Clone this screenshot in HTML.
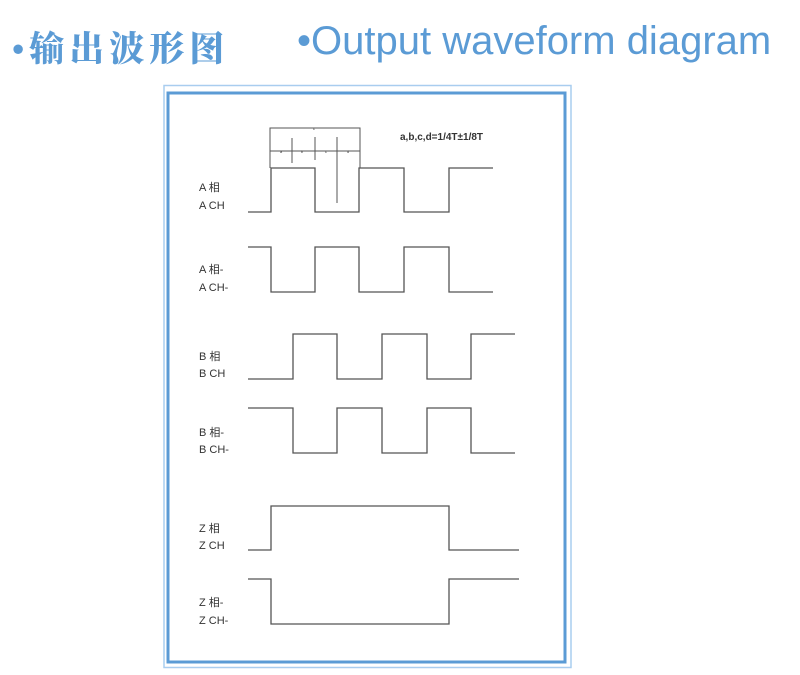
<!DOCTYPE html>
<html><head><meta charset="utf-8"><style>
body{margin:0;width:800px;height:675px;background:#fff;overflow:hidden;position:relative;font-family:"Liberation Sans",sans-serif}
.t1{position:absolute;left:12px;top:22px;font-family:"Liberation Serif","Noto Serif CJK SC",serif;font-weight:900;font-size:35px;color:#5b9bd5;letter-spacing:5px}
.t2{position:absolute;left:297px;top:19px;font-size:40px;color:#5b9bd5}
</style></head><body>
<div class="t1">•输出波形图</div>
<div class="t2">•Output waveform diagram</div>
<svg width="800" height="675" style="position:absolute;left:0;top:0">
<rect x="164" y="85.5" width="407" height="582" fill="none" stroke="#a9cdef" stroke-width="1.5"/>
<rect x="168" y="93" width="397" height="569" fill="none" stroke="#5b9bd5" stroke-width="3"/>
<g fill="none" stroke="#555" stroke-width="1.3">
<path d="M248 212H271V168H315V212H359V168H404V212H449V168H493"/>
<path d="M248 247H271V292H315V247H359V292H404V247H449V292H493"/>
<path d="M248 379H293V334H337V379H382V334H427V379H471V334H515"/>
<path d="M248 408H293V453H337V408H382V453H427V408H471V453H515"/>
<path d="M248 550H271V506H449V550H519"/>
<path d="M248 579H271V624H449V579H519"/>
<path d="M270 168V128H360V168M270 151H360M292 138V163M315 137V160M337 137V203" stroke-width="1"/>
</g>
<g font-size="4" fill="#333" text-anchor="middle"><text x="281" y="153">a</text><text x="302" y="153">b</text><text x="326" y="153">c</text><text x="348" y="153">d</text><text x="314" y="130">c</text></g>
<text x="400" y="140" font-size="10" font-weight="bold" fill="#333">a,b,c,d=1/4T±1/8T</text>
<g font-size="11" fill="#333" font-family="Liberation Sans,Noto Sans CJK SC,sans-serif">
<text x="199" y="191">A 相</text><text x="199" y="209">A CH</text>
<text x="199" y="273">A 相-</text><text x="199" y="291">A CH-</text>
<text x="199" y="360">B 相</text><text x="199" y="377">B CH</text>
<text x="199" y="436">B 相-</text><text x="199" y="453">B CH-</text>
<text x="199" y="532">Z 相</text><text x="199" y="549">Z CH</text>
<text x="199" y="606">Z 相-</text><text x="199" y="624">Z CH-</text>
</g>
</svg>
</body></html>
